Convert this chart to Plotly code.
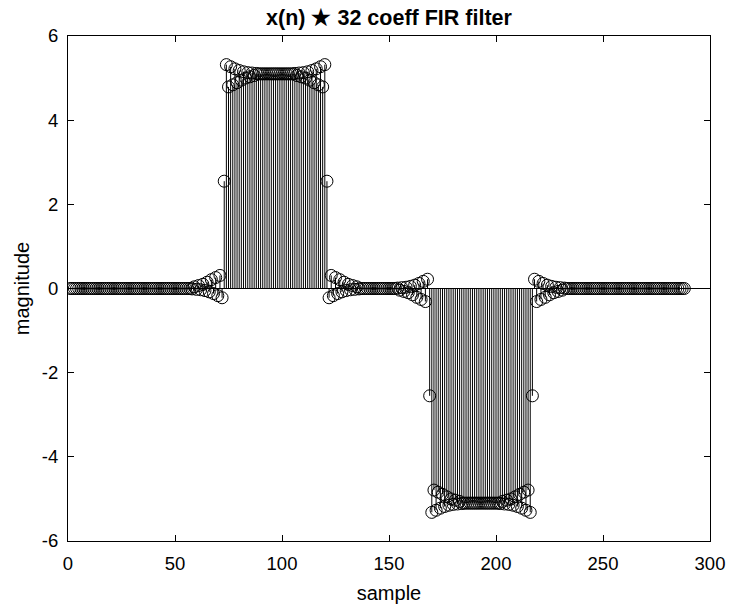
import plotly.graph_objects as go

# sample indices 1..288
samples = list(range(1, 289))

lead_zeros = [0.0] * 57            # samples 1..57
pos_rise = [-0.01, 0.04, -0.02, 0.07, -0.03, 0.10, -0.05, 0.15, -0.08, 0.21,
            -0.12, 0.26, -0.17, 0.31, -0.22, 2.55, 5.32, 4.79, 5.27, 4.84,
            5.22, 4.89, 5.18, 4.95, 5.15, 5.00, 5.13, 5.03, 5.12, 5.06, 5.11]   # 58..88
pos_flat = [5.10] * 17              # 89..105
pos_fall = [5.11, 5.06, 5.12, 5.03, 5.13, 5.00, 5.15, 4.95, 5.18, 4.89,
            5.22, 4.84, 5.27, 4.79, 5.32, 2.55, -0.22, 0.31, -0.17, 0.26,
            -0.12, 0.21, -0.08, 0.15, -0.05, 0.10, -0.03, 0.07, -0.02, 0.04, -0.01]  # 106..136
gap_zeros = [0.0] * 17              # 137..153
neg_rise = [0.01, -0.04, 0.02, -0.07, 0.03, -0.10, 0.05, -0.15, 0.08, -0.21,
            0.12, -0.26, 0.17, -0.31, 0.22, -2.55, -5.32, -4.79, -5.27, -4.84,
            -5.22, -4.89, -5.18, -4.95, -5.15, -5.00, -5.13, -5.03, -5.12, -5.06, -5.11]  # 154..184
neg_flat = [-5.10] * 17             # 185..201
neg_fall = [-5.11, -5.06, -5.12, -5.03, -5.13, -5.00, -5.15, -4.95, -5.18, -4.89,
            -5.22, -4.84, -5.27, -4.79, -5.32, -2.55, 0.22, -0.31, 0.17, -0.26,
            0.12, -0.21, 0.08, -0.15, 0.05, -0.10, 0.03, -0.07, 0.02, -0.04, 0.01]  # 202..232
tail_zeros = [0.0] * 56             # 233..288

magnitude = (lead_zeros + pos_rise + pos_flat + pos_fall + gap_zeros +
             neg_rise + neg_flat + neg_fall + tail_zeros)

x_ticks = [0, 50, 100, 150, 200, 250, 300]
x_tick_labels = ["0", "50", "100", "150", "200", "250", "300"]
y_ticks = [-6, -4, -2, 0, 2, 4, 6]
y_tick_labels = ["-6", "-4", "-2", "0", "2", "4", "6"]

FONT = "Liberation Sans, Arial, Helvetica, sans-serif"
INK = "#000000"

# stems
sx, sy = [], []
for xv, yv in zip(samples, magnitude):
    sx += [xv, xv, None]
    sy += [0, yv, None]

fig = go.Figure()
fig.add_trace(go.Scatter(x=[0, 300], y=[0, 0], mode="lines",
                         line=dict(color=INK, width=1), hoverinfo="skip",
                         showlegend=False))
fig.add_trace(go.Scatter(x=sx, y=sy, mode="lines",
                         line=dict(color=INK, width=1), hoverinfo="skip",
                         showlegend=False))
fig.add_trace(go.Scatter(x=samples, y=magnitude, mode="markers",
                         marker=dict(symbol="circle-open", size=12,
                                     color=INK, line=dict(width=1, color=INK)),
                         showlegend=False))

axis_common = dict(showgrid=False, zeroline=False, showline=True,
                   linecolor=INK, linewidth=1, mirror="ticks",
                   ticks="inside", ticklen=6, tickcolor=INK, tickwidth=1,
                   automargin=False,
                   tickfont=dict(family=FONT, size=18.5, color=INK))

fig.update_layout(
    width=729, height=608,
    margin=dict(l=68, r=19, t=36, b=67, autoexpand=False),
    paper_bgcolor="white", plot_bgcolor="white",
    font=dict(family=FONT, color=INK),
    title=dict(text="<b>x(n) \u2605 32 coeff FIR filter</b>",
               font=dict(family=FONT, size=21.5, color=INK),
               x=0.5, xref="paper", xanchor="center",
               y=1 - 17 / 608, yref="container", yanchor="middle"),
    xaxis=dict(range=[0, 300], tickvals=x_ticks, ticktext=x_tick_labels,
               title=dict(text="sample", font=dict(family=FONT, size=20, color=INK),
                          standoff=12),
               ticklabelstandoff=6, **axis_common),
    yaxis=dict(range=[-6, 6], tickvals=y_ticks, ticktext=y_tick_labels,
               title=dict(text="magnitude", font=dict(family=FONT, size=20, color=INK),
                          standoff=6),
               ticklabelstandoff=5, **axis_common),
)

fig.write_html(
    "out.html",
    config={"displayModeBar": False},
    post_script="document.documentElement.style.margin='0';"
                "document.body.style.margin='0';"
                "document.body.style.overflow='hidden';",
)
